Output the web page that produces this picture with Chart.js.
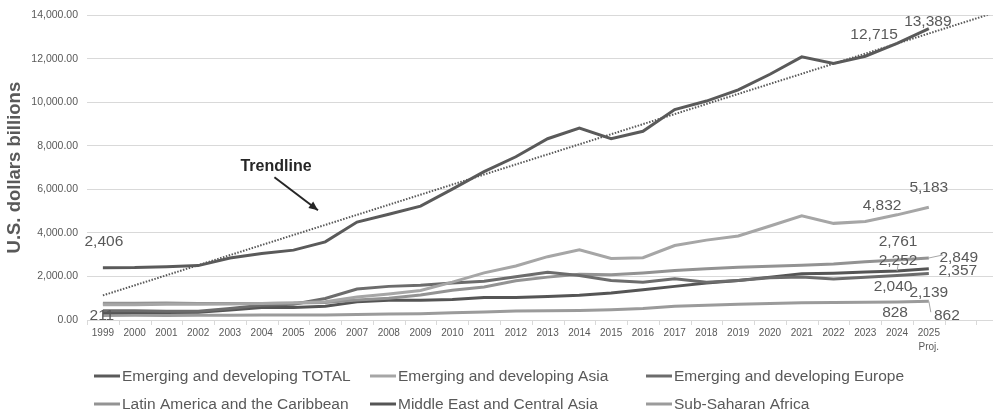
<!DOCTYPE html>
<html>
<head>
<meta charset="utf-8">
<script src="https://cdn.jsdelivr.net/npm/chart.js@4.4.1/dist/chart.umd.min.js"></script>
<style>
  html, body { margin: 0; padding: 0; background: #fff; }
  #wrap { width: 993px; height: 416px; position: relative; }
</style>
</head>
<body>
<div id="wrap"><canvas id="canvasChart"></canvas></div>
<script>
// data (U.S. dollars billions)
var years = [1999, 2000, 2001, 2002, 2003, 2004, 2005, 2006, 2007, 2008, 2009, 2010, 2011, 2012, 2013, 2014, 2015, 2016, 2017, 2018, 2019, 2020, 2021, 2022, 2023, 2024, 2025];
var xLabels = ["1999", "2000", "2001", "2002", "2003", "2004", "2005", "2006", "2007", "2008", "2009", "2010", "2011", "2012", "2013", "2014", "2015", "2016", "2017", "2018", "2019", "2020", "2021", "2022", "2023", "2024", ["2025", "Proj."]];

var totalValues = [2406, 2410, 2450, 2500, 2850, 3060, 3210, 3590, 4500, 4860, 5230, 6010, 6820, 7500, 8330, 8820, 8330, 8670, 9670, 10060, 10575, 11290, 12090, 11790, 12120, 12715, 13389];
var asiaValues = [700, 700, 720, 720, 740, 760, 780, 840, 1060, 1200, 1360, 1740, 2165, 2480, 2910, 3230, 2830, 2860, 3420, 3670, 3860, 4320, 4790, 4440, 4530, 4832, 5183];
var europeValues = [420, 420, 400, 400, 530, 680, 727, 985, 1420, 1545, 1600, 1700, 1785, 1990, 2197, 2045, 1820, 1740, 1895, 1740, 1820, 1940, 1970, 1880, 1960, 2040, 2139];
var latamValues = [770, 770, 780, 760, 760, 760, 780, 800, 920, 1000, 1150, 1364, 1515, 1800, 1970, 2100, 2080, 2165, 2270, 2350, 2420, 2470, 2515, 2575, 2680, 2761, 2849];
var middleEastValues = [333, 350, 340, 360, 455, 575, 575, 636, 833, 910, 910, 940, 1030, 1030, 1080, 1136, 1240, 1395, 1545, 1695, 1820, 1970, 2120, 2150, 2210, 2252, 2357];
var ssaValues = [211, 215, 210, 215, 220, 225, 225, 230, 250, 270, 290, 333, 370, 409, 420, 440, 470, 530, 636, 680, 727, 760, 787, 800, 810, 828, 862];

// linear trendline of the total, read at both ends (runs 2 periods forward)
var trendYears = [1999, 2027];
var trendValues = [1130, 14090];

var seriesNames = ["Emerging and developing TOTAL", "Emerging and developing Asia", "Emerging and developing Europe", "Latin America and the Caribbean", "Middle East and Central Asia", "Sub-Saharan Africa"];
var seriesColors = ["#5a5a5a", "#a6a6a6", "#6c6c6c", "#939393", "#555555", "#9b9b9b"];

var textColor = "#595959";
var gridColor = "#d9d9d9";
Chart.defaults.font.family = "'Liberation Sans', Arial, sans-serif";

// which points get a value label, and where it sits relative to the point
var pointLabels = [
  { ds: 0, i: 0, dx: 1, dy: -26 },
  { ds: 0, i: 25, dx: -23, dy: -9 },
  { ds: 0, i: 26, dx: -1, dy: -7 },
  { ds: 1, i: 25, dx: -15, dy: -9 },
  { ds: 1, i: 26, dx: 0, dy: -19 },
  { ds: 3, i: 25, dx: 1, dy: -18 },
  { ds: 3, i: 26, dx: 30, dy: 0, leader: true },
  { ds: 4, i: 25, dx: 1, dy: -10, leader: true },
  { ds: 4, i: 26, dx: 29, dy: 2 },
  { ds: 2, i: 25, dx: -4, dy: 11 },
  { ds: 2, i: 26, dx: 0, dy: 19 },
  { ds: 5, i: 25, dx: -2, dy: 11 },
  { ds: 5, i: 26, dx: 18, dy: 14, leader: true },
  { ds: 5, i: 0, dx: -1, dy: 0 }
];

var valueLabelsPlugin = {
  id: "valueLabels",
  afterDatasetsDraw: function(chart) {
    var ctx = chart.ctx;
    ctx.save();
    ctx.font = "15.5px 'Liberation Sans', Arial, sans-serif";
    ctx.textAlign = "center";
    ctx.textBaseline = "middle";
    pointLabels.forEach(function(p) {
      var el = chart.getDatasetMeta(p.ds).data[p.i];
      var v = chart.data.datasets[p.ds].data[p.i];
      var x = el.x + p.dx, y = el.y + p.dy;
      if (p.leader) {
        ctx.strokeStyle = "#a6a6a6";
        ctx.lineWidth = 1;
        ctx.beginPath();
        ctx.moveTo(el.x, el.y);
        if (p.dx > 10) ctx.lineTo(x - 16, y - 3); else ctx.lineTo(x, y + 4);
        ctx.stroke();
      }
      ctx.fillStyle = textColor;
      ctx.fillText(Number(v).toLocaleString("en-US"), x, y);
    });
    ctx.restore();
  }
};

// tick marks between categories, like a category axis
var axisMarksPlugin = {
  id: "axisMarks",
  afterDraw: function(chart) {
    var xs = chart.scales.x, ctx = chart.ctx, bottom = chart.chartArea.bottom;
    ctx.save();
    ctx.strokeStyle = gridColor;
    ctx.lineWidth = 1;
    for (var k = 0; k <= years.length + 1; k++) {
      var px = Math.round(xs.getPixelForValue(years[0] - 0.5 + k)) + 0.5;
      ctx.beginPath();
      ctx.moveTo(px, bottom);
      ctx.lineTo(px, bottom + 5);
      ctx.stroke();
    }
    ctx.restore();
  }
};

var trendNotePlugin = {
  id: "trendNote",
  afterDraw: function(chart) {
    var xs = chart.scales.x, ys = chart.scales.y, ctx = chart.ctx;
    var tx = xs.getPixelForValue(2004.45), ty = ys.getPixelForValue(7070);
    var ax0 = xs.getPixelForValue(2004.4), ay0 = ys.getPixelForValue(6560);
    var ax1 = xs.getPixelForValue(2005.77), ay1 = ys.getPixelForValue(5045);
    ctx.save();
    ctx.fillStyle = "#262626";
    ctx.font = "bold 16px 'Liberation Sans', Arial, sans-serif";
    ctx.textAlign = "center";
    ctx.textBaseline = "middle";
    ctx.fillText("Trendline", tx, ty);
    ctx.strokeStyle = "#262626";
    ctx.lineWidth = 2;
    ctx.beginPath();
    ctx.moveTo(ax0, ay0);
    ctx.lineTo(ax1, ay1);
    ctx.stroke();
    var ang = Math.atan2(ay1 - ay0, ax1 - ax0);
    ctx.beginPath();
    ctx.moveTo(ax1, ay1);
    ctx.lineTo(ax1 - 9 * Math.cos(ang) + 4 * Math.sin(ang), ay1 - 9 * Math.sin(ang) - 4 * Math.cos(ang));
    ctx.lineTo(ax1 - 9 * Math.cos(ang) - 4 * Math.sin(ang), ay1 - 9 * Math.sin(ang) + 4 * Math.cos(ang));
    ctx.closePath();
    ctx.fill();
    ctx.restore();
  }
};

// legend laid out in three columns, two rows
var legendCols = [94, 370, 646];
var legendRows = [376, 404];
var gridLegendPlugin = {
  id: "gridLegend",
  afterDraw: function(chart) {
    var ctx = chart.ctx;
    ctx.save();
    ctx.font = "15.5px 'Liberation Sans', Arial, sans-serif";
    ctx.textBaseline = "middle";
    ctx.textAlign = "left";
    for (var n = 0; n < seriesNames.length; n++) {
      var x = legendCols[n % 3], y = legendRows[Math.floor(n / 3)];
      ctx.strokeStyle = seriesColors[n];
      ctx.lineWidth = 3;
      ctx.beginPath();
      ctx.moveTo(x, y);
      ctx.lineTo(x + 26, y);
      ctx.stroke();
      ctx.fillStyle = textColor;
      ctx.fillText(chart.data.datasets[n].label, x + 28, y + 1);
    }
    ctx.restore();
  }
};

function lineSet(n, values) {
  return {
    label: seriesNames[n],
    data: values,
    borderColor: seriesColors[n],
    backgroundColor: seriesColors[n],
    borderWidth: 3,
    pointRadius: 0,
    tension: 0,
    fill: false
  };
}

var ctx = document.getElementById("canvasChart");
var chart = new Chart(ctx, {
  type: "line",
  data: {
    labels: years,
    datasets: [
      lineSet(0, totalValues),
      lineSet(1, asiaValues),
      lineSet(2, europeValues),
      lineSet(3, latamValues),
      lineSet(4, middleEastValues),
      lineSet(5, ssaValues),
      {
        label: "Trendline",
        data: trendYears.map(function(y, k) { return { x: y, y: trendValues[k] }; }),
        borderColor: "#595959",
        borderWidth: 2,
        borderDash: [1.5, 1.5],
        pointRadius: 0,
        fill: false
      }
    ]
  },
  options: {
    responsive: true,
    maintainAspectRatio: false,
    animation: false,
    layout: { padding: { top: 12, right: 0, bottom: 56, left: 0 } },
    plugins: {
      legend: { display: false },
      tooltip: { enabled: false }
    },
    scales: {
      x: {
        type: "linear",
        min: 1998.5,
        max: 2027.02,
        afterBuildTicks: function(s) {
          s.ticks = years.map(function(v) { return { value: v }; });
        },
        afterFit: function(s) { s.height = 40; },
        grid: { display: false, drawTicks: false },
        border: { display: true, color: gridColor, width: 1 },
        ticks: {
          autoSkip: false,
          maxRotation: 0,
          padding: 6,
          color: textColor,
          font: { size: 10, lineHeight: 1.4 },
          callback: function(value) {
            var k = years.indexOf(value);
            return k >= 0 ? xLabels[k] : "";
          }
        }
      },
      y: {
        min: 0,
        max: 14000,
        afterFit: function(s) { s.width = 87; },
        grid: { color: gridColor, drawTicks: false },
        border: { display: false },
        ticks: {
          stepSize: 2000,
          padding: 9,
          color: textColor,
          font: { size: 10.5 },
          callback: function(v) {
            return Number(v).toLocaleString("en-US", { minimumFractionDigits: 2, maximumFractionDigits: 2 });
          }
        },
        title: {
          display: true,
          text: "U.S. dollars billions",
          color: textColor,
          font: { size: 18.5, weight: "bold" },
          padding: { top: 4, bottom: 0 }
        }
      }
    }
  },
  plugins: [valueLabelsPlugin, axisMarksPlugin, trendNotePlugin, gridLegendPlugin]
});
</script>
</body>
</html>
